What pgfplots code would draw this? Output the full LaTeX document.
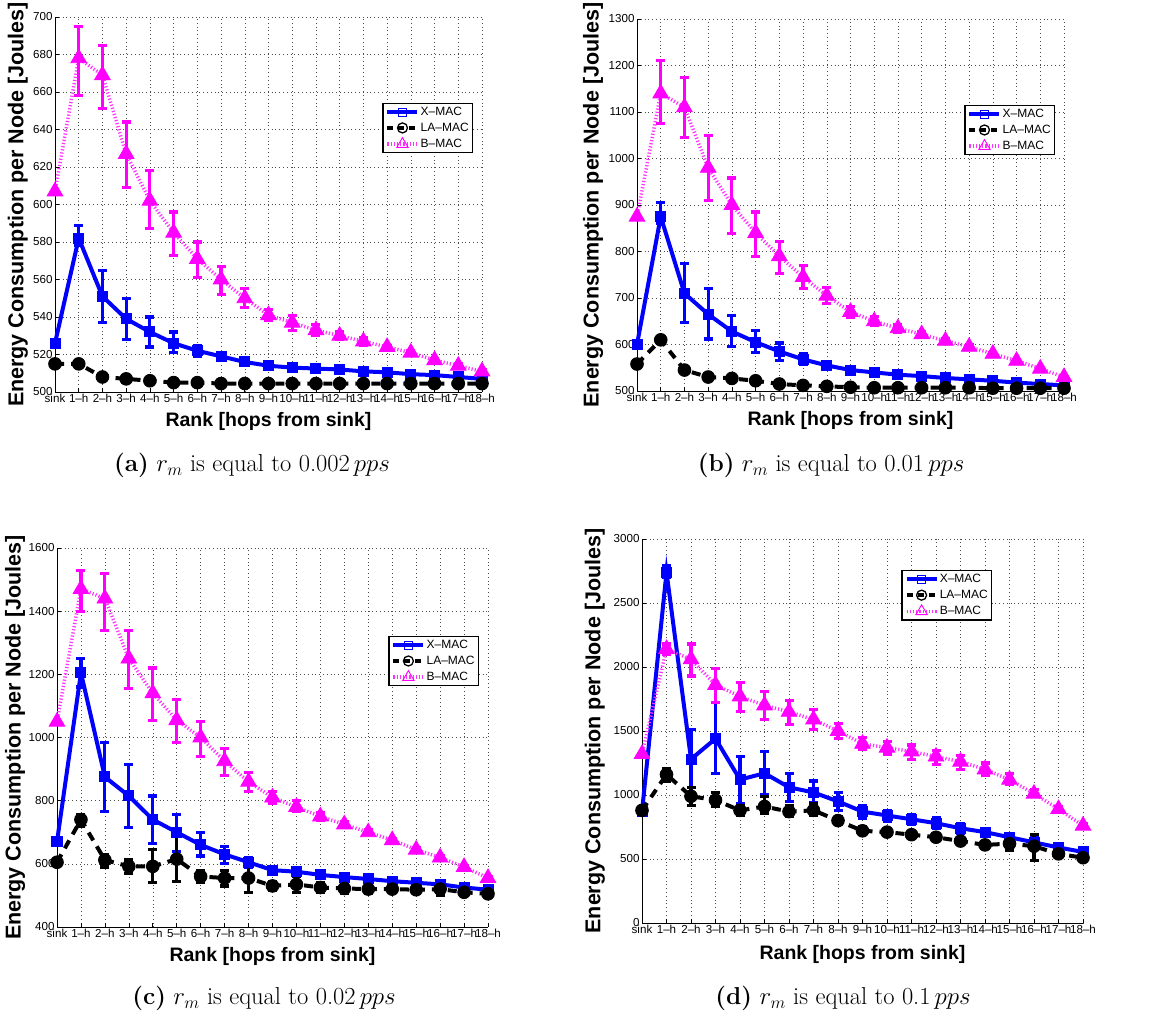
\documentclass[border=0pt]{standalone}
\usepackage{pgfplots}
\pgfplotsset{compat=1.18}
\usepackage{pgfplotstable}
\usepackage{fontspec}
\newfontfamily\helv{Liberation Sans}

% ---------- data: x y ep em ----------
\pgfplotstableread{
x y ep em
0 526 1 1
1 582 7 4
2 551 14 14
3 539 11 11
4 532 8 8
5 526 6 5
6 522 3 3
7 519 2 2
8 516 1.5 1.5
9 514 1 1
10 513 1 1
11 512.5 1 1
12 512 1 1
13 511 1 1
14 510.5 1 1
15 509.5 1 1
16 509 1 1
17 508 1 1
18 507 0.5 0.5
}\xa
\pgfplotstableread{
x y ep em
0 515 0.5 0.5
1 515 1 1
2 508 1 1
3 507 0.5 0.5
4 506 0.5 0.5
5 505 0.5 0.5
6 505 0.5 0.5
7 504.5 0.5 0.5
8 504.5 0.5 0.5
9 504.5 0.5 0.5
10 504.5 0.5 0.5
11 504.5 0.5 0.5
12 504.5 0.5 0.5
13 504.5 0.5 0.5
14 504.5 0.5 0.5
15 504.5 0.5 0.5
16 504.5 0.5 0.5
17 504.5 0.5 0.5
18 504.5 0.5 0.5
}\la
\pgfplotstableread{
x y ep em
0 607 0 0
1 678 17 20
2 669 16 18
3 627 17 18
4 602 16 15
5 585 11 12
6 571 9 10
7 560 7 8
8 550 5 5
9 541 3 3
10 537 4 4
11 533 3 3
12 530 2 2
13 527 2 2
14 524 1 1
15 521 1 1
16 517 1 1
17 514 1 1
18 511 1 1
}\ba
% ---- panel b
\pgfplotstableread{
x y ep em
0 600 0 0
1 875 30 15
2 710 65 62
3 665 55 53
4 628 35 33
5 605 25 23
6 585 18 20
7 568 12 10
8 555 5 5
9 545 4 4
10 540 3 3
11 535 3 3
12 532 2 2
13 528 2 2
14 525 2 2
15 522 2 2
16 518 2 2
17 515 2 2
18 512 1 1
}\xb
\pgfplotstableread{
x y ep em
0 558 0 0
1 610 2 2
2 545 2 2
3 530 2 2
4 527 2 2
5 522 2 2
6 515 2 2
7 512 1 1
8 510 1 1
9 508 1 1
10 507 1 1
11 507 1 1
12 507 1 1
13 507 1 1
14 507 1 1
15 506 1 1
16 506 1 1
17 506 1 1
18 506 1 1
}\lb
\pgfplotstableread{
x y ep em
0 875 0 0
1 1140 70 65
2 1110 65 65
3 980 70 70
4 900 58 62
5 840 45 50
6 790 32 38
7 745 25 25
8 705 17 17
9 670 12 12
10 650 10 10
11 635 8 8
12 622 6 6
13 608 5 5
14 595 4 4
15 580 3 3
16 565 3 3
17 548 2 2
18 530 2 2
}\bb
% ---- panel c
\pgfplotstableread{
x y ep em
0 670 0 0
1 1205 45 45
2 875 110 110
3 815 100 100
4 740 75 75
5 700 55 60
6 660 40 35
7 630 25 30
8 605 15 15
9 580 8 8
10 575 6 6
11 565 5 5
12 558 4 4
13 552 4 4
14 545 3 3
15 540 3 3
16 535 3 3
17 525 3 3
18 518 2 2
}\xc
\pgfplotstableread{
x y ep em
0 605 0 0
1 740 15 20
2 612 18 22
3 592 20 22
4 592 53 52
5 615 75 70
6 560 20 20
7 555 25 25
8 555 40 45
9 530 15 15
10 535 25 25
11 525 15 15
12 522 18 17
13 520 15 15
14 520 10 10
15 518 12 13
16 520 20 20
17 510 8 8
18 505 5 5
}\lc
\pgfplotstableread{
x y ep em
0 1050 0 0
1 1470 60 70
2 1440 80 100
3 1250 90 95
4 1140 80 85
5 1055 65 70
6 1000 50 60
7 925 40 45
8 860 30 30
9 810 20 20
10 780 20 15
11 750 12 12
12 725 10 10
13 700 8 8
14 675 6 6
15 645 5 5
16 620 5 5
17 590 5 5
18 555 4 4
}\bc
% ---- panel d
\pgfplotstableread{
x y ep em
0 870 0 0
1 2740 50 40
2 1280 230 220
3 1440 280 270
4 1120 180 190
5 1170 170 170
6 1060 110 110
7 1020 90 80
8 950 70 70
9 870 50 50
10 840 40 50
11 810 40 40
12 780 40 40
13 740 40 40
14 710 30 30
15 670 30 50
16 630 50 50
17 590 20 20
18 555 15 15
}\xd
\pgfplotstableread{
x y ep em
0 880 0 0
1 1160 50 50
2 990 70 70
3 960 60 50
4 880 40 40
5 910 80 50
6 870 50 40
7 880 50 40
8 800 30 30
9 720 30 20
10 710 20 20
11 690 20 20
12 670 20 20
13 640 20 20
14 610 20 20
15 620 50 50
16 600 90 110
17 540 20 20
18 510 15 15
}\ld
\pgfplotstableread{
x y ep em
0 1320 0 0
1 2140 40 40
2 2060 120 130
3 1860 130 140
4 1770 110 120
5 1700 110 110
6 1650 90 100
7 1590 80 80
8 1500 60 60
9 1400 50 40
10 1370 50 50
11 1340 50 60
12 1300 50 60
13 1260 50 60
14 1200 50 50
15 1120 50 40
16 1010 30 20
17 890 20 20
18 760 15 15
}\bd

\definecolor{mblue}{rgb}{0,0,1}
\definecolor{mmag}{rgb}{1,0,1}

\pgfplotsset{
  panel/.style={
    scale only axis,
    clip=false,
    xmin=0, xmax=18,
    axis lines=left,
    every outer x axis line/.append style={-},
    every outer y axis line/.append style={-},
    axis line style={line width=0.8pt},
    tick align=inside,
    major tick length=4pt,
    tick style={black, line width=0.6pt},
    xtick={0,...,18},
    xticklabels={sink,1–h,2–h,3–h,4–h,5–h,6–h,7–h,8–h,9–h,10–h,11–h,12–h,13–h,14–h,15–h,16–h,17–h,18–h},
    tick label style={font=\helv\fontsize{11.6}{13}\selectfont},
    /pgf/number format/assume math mode=true,
    /pgf/number format/set thousands separator={},
    yticklabel style={/pgf/number format/fixed},
    x tick label style={yshift=1.5pt},
    y tick label style={xshift=1pt},
    grid=major,
    grid style={black!70, line width=0.5pt, dash pattern=on 0.6pt off 3.2pt},
    xlabel={Rank [hops from sink]},
    ylabel={Energy Consumption per Node [Joules]},
    xlabel style={font=\helv\bfseries\fontsize{19.5}{21}\selectfont, anchor=center},
    ylabel style={font=\helv\bfseries\fontsize{21.5}{23}\selectfont, anchor=center},
    legend style={font=\helv\fontsize{12}{14}\selectfont, draw=black, line width=1.3pt,
      anchor=north east, inner sep=2.5pt, row sep=3.5pt,
      nodes={inner sep=1.2pt}},
    legend cell align=left,
    legend image code/.code={%
      \draw[mark repeat=2, mark phase=2, #1] plot coordinates {(0pt,0pt) (15pt,0pt) (30pt,0pt)};},
  },
  ebars/.style={
    error bars/y dir=both, error bars/y explicit,
    error bars/error bar style={line width=3.2pt, solid},
    error bars/error mark options={rotate=90, mark size=4.5pt, line width=3.2pt}},
  xmac/.style={mblue, line width=4pt, solid, mark=square*, mark size=5pt,
    mark options={solid, fill=mblue, line width=1pt}, ebars},
  lamac/.style={black, line width=4pt, dash pattern=on 9pt off 7pt, mark=*, mark size=6.3pt,
    mark options={solid, fill=black, line width=1pt}, ebars},
  bmac/.style={mmag!80, line width=3.5pt, dash pattern=on 1.2pt off 2pt, mark=triangle*, mark size=9pt,
    mark options={solid, fill=mmag, draw=mmag, line width=0.8pt}, ebars,
    error bars/error bar style={line width=3.2pt, solid, mmag}},
  legx/.style={mblue, line width=4pt, solid, mark=square, mark size=4pt, mark options={solid, line width=0.8pt}},
  legl/.style={black, line width=4pt, dash pattern=on 6pt off 5pt, mark=o, mark size=5pt, mark options={solid, line width=1.3pt}},
  legb/.style={mmag!80, line width=3.5pt, dash pattern=on 1.2pt off 2pt, mark=triangle, mark size=6.5pt, mark options={solid, draw=mmag, line width=0.9pt}},
}

\newcommand{\threeplots}[3]{%
  \addlegendimage{legx}\addlegendentry{X–MAC}
  \addlegendimage{legl}\addlegendentry{LA–MAC}
  \addlegendimage{legb}\addlegendentry{B–MAC}
  \addplot[forget plot, xmac] table[x=x, y=y, y error plus=ep, y error minus=em] {#1};
  \addplot[forget plot, lamac] table[x=x, y=y, y error plus=ep, y error minus=em] {#2};
  \addplot[forget plot, bmac] table[x=x, y=y, y error plus=ep, y error minus=em] {#3};
}

\begin{document}
\begin{tikzpicture}
\path[use as bounding box] (0,0) rectangle (1153pt,1016pt);

% (a)
\begin{axis}[panel, at={(55pt,624pt)}, anchor=south west, width=427pt, height=375pt,
  ymin=500, ymax=700, ytick={500,520,...,700},
  xlabel style={at={(axis description cs:0.5,-0.078)}},
  ylabel style={at={(axis description cs:-0.087,0.5)}},
  legend style={at={(axis description cs:0.979,0.771)}}]
\threeplots{\xa}{\la}{\ba}
\end{axis}

% (b)
\begin{axis}[panel, at={(637pt,625pt)}, anchor=south west, width=427pt, height=372pt,
  ymin=500, ymax=1300, ytick={500,600,...,1300},
  xlabel style={at={(axis description cs:0.5,-0.078)}},
  ylabel style={at={(axis description cs:-0.103,0.5)}},
  legend style={at={(axis description cs:0.979,0.769)}}]
\threeplots{\xb}{\lb}{\bb}
\end{axis}

% (c)
\begin{axis}[panel, at={(57pt,89pt)}, anchor=south west, width=431pt, height=379pt,
  ymin=400, ymax=1600, ytick={400,600,...,1600},
  xlabel style={at={(axis description cs:0.5,-0.077)}},
  ylabel style={at={(axis description cs:-0.097,0.5)}},
  legend style={at={(axis description cs:0.979,0.768)}}]
\threeplots{\xc}{\lc}{\bc}
\end{axis}

% (d)
\begin{axis}[panel, at={(642pt,93pt)}, anchor=south west, width=441pt, height=384pt,
  ymin=0, ymax=3000, ytick={0,500,...,3000},
  xlabel style={at={(axis description cs:0.5,-0.083)}},
  ylabel style={at={(axis description cs:-0.107,0.5)}},
  legend style={at={(axis description cs:0.794,0.919)}}]
\threeplots{\xd}{\ld}{\bd}
\end{axis}

\node[anchor=base] at (252pt,544pt) {\fontsize{24.5}{29}\selectfont\textbf{(a)} $r_m$ is equal to 0.002\,$pps$};
\node[anchor=base] at (831pt,544pt) {\fontsize{24.5}{29}\selectfont\textbf{(b)} $r_m$ is equal to 0.01\,$pps$};
\node[anchor=base] at (264pt,11pt) {\fontsize{24.5}{29}\selectfont\textbf{(c)} $r_m$ is equal to 0.02\,$pps$};
\node[anchor=base] at (843pt,11pt) {\fontsize{24.5}{29}\selectfont\textbf{(d)} $r_m$ is equal to 0.1\,$pps$};
\end{tikzpicture}
\end{document}
